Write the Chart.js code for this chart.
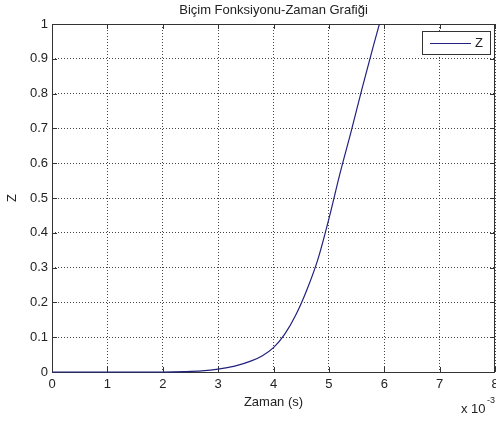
<!DOCTYPE html>
<html>
<head>
<meta charset="utf-8">
<script src="https://cdn.jsdelivr.net/npm/chart.js@4.4.1/dist/chart.umd.min.js"></script>
<style>
  html, body { margin: 0; padding: 0; background: #fff; }
  #wrap { width: 496px; height: 421px; }
</style>
</head>
<body>
<div id="wrap"><canvas id="myChart" width="496" height="421"></canvas></div>
<script>
// time in units of 10^-3 s, Z values
const timeMs = [0, 1, 2, 2.4, 2.7, 3.0, 3.3, 3.6, 3.8, 4.0, 4.2, 4.4, 4.6, 4.8, 5.0, 5.2, 5.4, 5.6, 5.8, 6.0];
const zValues = [0, 0, 0, 0.001, 0.003, 0.008, 0.017, 0.032, 0.047, 0.07, 0.108, 0.163, 0.235, 0.323, 0.44, 0.57, 0.69, 0.815, 0.935, 1.05];
const xTicks = [0, 1, 2, 3, 4, 5, 6, 7, 8];
const yTicks = [0, 0.1, 0.2, 0.3, 0.4, 0.5, 0.6, 0.7, 0.8, 0.9, 1];

const titleText = 'Biçim Fonksiyonu-Zaman Grafiği';
const xLabel = 'Zaman (s)';
const yLabel = 'Z';
const seriesName = 'Z';
const lineColor = '#22227e';
const axisColor = '#333333';
const fontFamily = '"Liberation Sans", Arial, Helvetica, sans-serif';

// Draws the matlab style box, inward tick marks, texts and legend
const matlabFrame = {
    id: 'matlabFrame',
    beforeDatasetsDraw(chart) {
        const ctx = chart.ctx;
        const area = chart.chartArea;
        const xs = chart.scales.x;
        const ys = chart.scales.y;
        ctx.save();
        ctx.strokeStyle = axisColor;
        ctx.lineWidth = 1;
        ctx.setLineDash([]);

        // tick marks (inside, on all four sides)
        ctx.beginPath();
        xTicks.forEach(v => {
            const px = Math.round(xs.getPixelForValue(v)) + 0.5;
            ctx.moveTo(px, area.bottom);
            ctx.lineTo(px, area.bottom - 5);
            ctx.moveTo(px, area.top);
            ctx.lineTo(px, area.top + 5);
        });
        yTicks.forEach(v => {
            const py = Math.round(ys.getPixelForValue(v)) + 0.5;
            ctx.moveTo(area.left, py);
            ctx.lineTo(area.left + 5, py);
            ctx.moveTo(area.right, py);
            ctx.lineTo(area.right - 5, py);
        });
        ctx.stroke();

        // box
        ctx.strokeRect(Math.round(area.left) + 0.5, Math.round(area.top) + 0.5,
            Math.round(area.right - area.left) - 1, Math.round(area.bottom - area.top));
        ctx.restore();
    },
    afterDraw(chart) {
        const ctx = chart.ctx;
        const area = chart.chartArea;
        ctx.save();

        // texts
        ctx.fillStyle = '#222';
        ctx.font = '13px ' + fontFamily;
        ctx.textAlign = 'center';
        ctx.textBaseline = 'middle';
        ctx.fillText(titleText, (area.left + area.right) / 2, 10);
        ctx.fillText(xLabel, (area.left + area.right) / 2, 402);

        ctx.save();
        ctx.translate(12, (area.top + area.bottom) / 2);
        ctx.rotate(-Math.PI / 2);
        ctx.fillText(yLabel, 0, 0);
        ctx.restore();

        // exponent
        ctx.textAlign = 'left';
        ctx.fillText('x 10', 461, 409);
        ctx.font = '9px ' + fontFamily;
        ctx.fillText('-3', 487, 401);

        // legend
        const lx = 422, ly = 31, lw = 68, lh = 23;
        ctx.fillStyle = '#fff';
        ctx.fillRect(lx, ly, lw, lh);
        ctx.strokeStyle = axisColor;
        ctx.lineWidth = 1;
        ctx.strokeRect(lx + 0.5, ly + 0.5, lw, lh);
        ctx.strokeStyle = lineColor;
        ctx.beginPath();
        ctx.moveTo(lx + 8, ly + 12.5);
        ctx.lineTo(lx + 49, ly + 12.5);
        ctx.stroke();
        ctx.fillStyle = '#222';
        ctx.font = '13px ' + fontFamily;
        ctx.fillText(seriesName, lx + 53, ly + 12);
        ctx.restore();
    }
};

const points = timeMs.map((t, i) => ({ x: t, y: zValues[i] }));

new Chart(document.getElementById('myChart').getContext('2d'), {
    type: 'line',
    data: {
        datasets: [{
            label: seriesName,
            data: points,
            borderColor: lineColor,
            borderWidth: 1.2,
            pointRadius: 0,
            cubicInterpolationMode: 'monotone',
            fill: false,
            clip: { left: 0, top: 0, right: 0, bottom: 2 }
        }]
    },
    options: {
        responsive: false,
        animation: false,
        layout: { padding: { top: 24, right: 1, left: 0, bottom: 0 } },
        plugins: {
            legend: { display: false },
            title: { display: false },
            tooltip: { enabled: false }
        },
        scales: {
            x: {
                type: 'linear',
                min: 0,
                max: 8,
                afterFit: scale => {
                    scale.height = 49;
                    scale.paddingLeft = 0;
                    scale.paddingRight = 0;
                },
                afterBuildTicks: scale => { scale.ticks = xTicks.map(v => ({ value: v })); },
                ticks: {
                    color: '#222',
                    padding: 5,
                    maxRotation: 0,
                    font: { family: fontFamily, size: 13 },
                    callback: v => String(v)
                },
                grid: { color: '#444', drawTicks: false, lineWidth: 1 },
                border: { display: false, dash: [1, 2] }
            },
            y: {
                min: 0,
                max: 1,
                afterFit: scale => {
                    scale.width = 52;
                    scale.paddingTop = 0;
                    scale.paddingBottom = 0;
                },
                afterBuildTicks: scale => { scale.ticks = yTicks.map(v => ({ value: v })); },
                ticks: {
                    color: '#222',
                    padding: 4,
                    font: { family: fontFamily, size: 13 },
                    callback: v => String(Number(v.toFixed(1)))
                },
                grid: { color: '#444', drawTicks: false, lineWidth: 1 },
                border: { display: false, dash: [1, 2] }
            }
        }
    },
    plugins: [matlabFrame]
});
</script>
</body>
</html>
